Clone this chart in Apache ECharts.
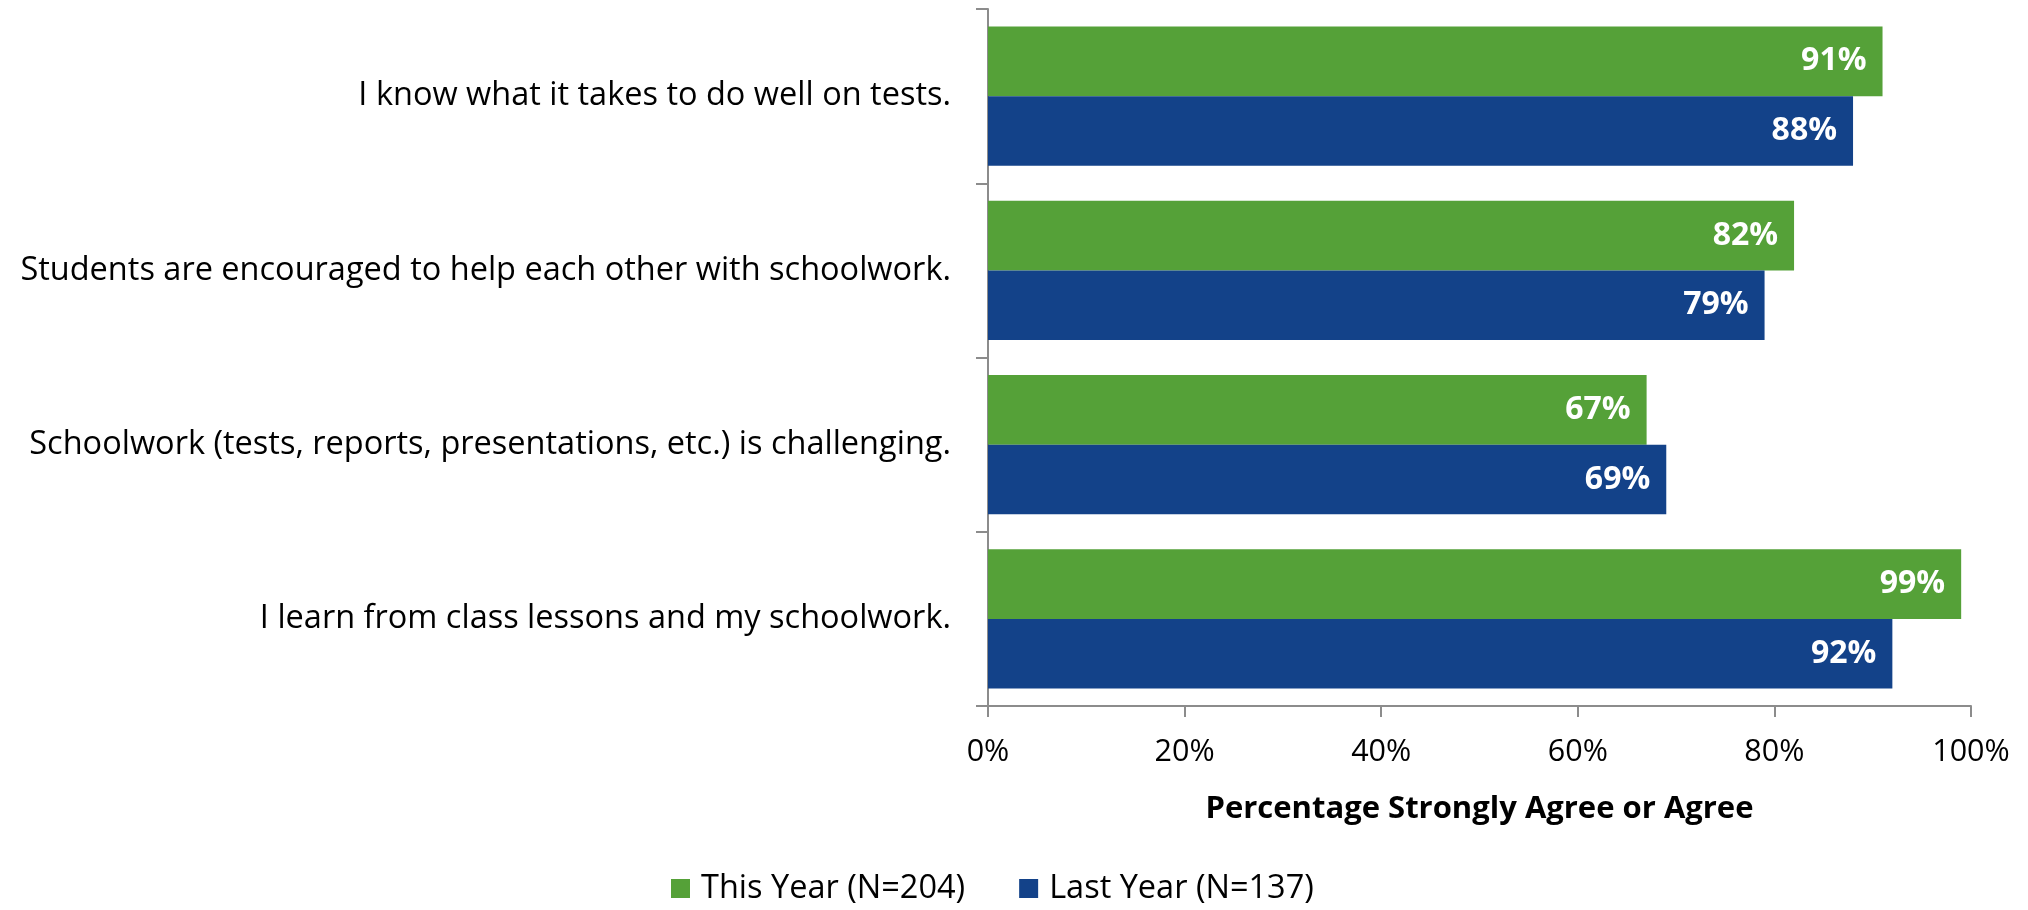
<!DOCTYPE html>
<html>
<head>
<meta charset="utf-8">
<script src="https://cdn.jsdelivr.net/npm/echarts@6/dist/echarts.min.js"></script>
<style>
html,body{margin:0;padding:0;background:#fff;}
#chart{width:2028px;height:910px;}
</style>
</head>
<body>
<div id="chart"></div>
<script>
const categories = [
  "I know what it takes to do well on tests.",
  "Students are encouraged to help each other with schoolwork.",
  "Schoolwork (tests, reports, presentations, etc.) is challenging.",
  "I learn from class lessons and my schoolwork."
];
const thisYear = [91, 82, 67, 99];
const lastYear = [88, 79, 69, 92];
const seriesNames = ["This Year (N=204)", "Last Year (N=137)"];
const xTicks = [0, 20, 40, 60, 80, 100];
const axisTitle = "Percentage Strongly Agree or Agree";

const FONT = "Open Sans";
const chart = echarts.init(document.getElementById('chart'));
const labelCfg = {
  show: true,
  position: 'insideRight',
  distance: 16,
  color: '#fff',
  fontFamily: FONT,
  fontWeight: 'bold',
  fontSize: 32,
  formatter: p => p.value + '%'
};
chart.setOption({
  animation: false,
  grid: {left: 988, right: 57, top: 9, bottom: 204, containLabel: false},
  legend: {
    top: 872,
    left: 671,
    padding: 0,
    itemWidth: 19,
    itemHeight: 19,
    itemGap: 54,
    icon: 'rect',
    textStyle: {fontFamily: FONT, fontSize: 32.5, color: '#000', padding: [0, 0, 0, 6]},
    data: seriesNames
  },
  xAxis: {
    type: 'value',
    min: xTicks[0],
    max: xTicks[xTicks.length - 1],
    interval: xTicks[1] - xTicks[0],
    name: axisTitle,
    nameLocation: 'middle',
    nameGap: 88,
    nameTextStyle: {fontFamily: FONT, fontSize: 31, fontWeight: 'bold', color: '#000'},
    axisLine: {show: true, lineStyle: {color: '#8c8c8c', width: 2}},
    axisTick: {show: true, length: 11, lineStyle: {color: '#8c8c8c', width: 2}},
    splitLine: {show: false},
    axisLabel: {fontFamily: FONT, fontSize: 30.5, color: '#000', margin: 31, formatter: '{value}%'}
  },
  yAxis: {
    type: 'category',
    inverse: true,
    data: categories,
    axisLine: {show: true, lineStyle: {color: '#8c8c8c', width: 2}},
    axisTick: {show: true, length: 12, lineStyle: {color: '#8c8c8c', width: 2}},
    axisLabel: {fontFamily: FONT, fontSize: 32.5, color: '#000', margin: 37}
  },
  series: [
    {
      name: seriesNames[0], type: 'bar', data: thisYear,
      itemStyle: {color: '#55A138'},
      barGap: '0%', barCategoryGap: '20%',
      label: labelCfg
    },
    {
      name: seriesNames[1], type: 'bar', data: lastYear,
      itemStyle: {color: '#134289'},
      barGap: '0%', barCategoryGap: '20%',
      label: labelCfg
    }
  ]
});
</script>
</body>
</html>
